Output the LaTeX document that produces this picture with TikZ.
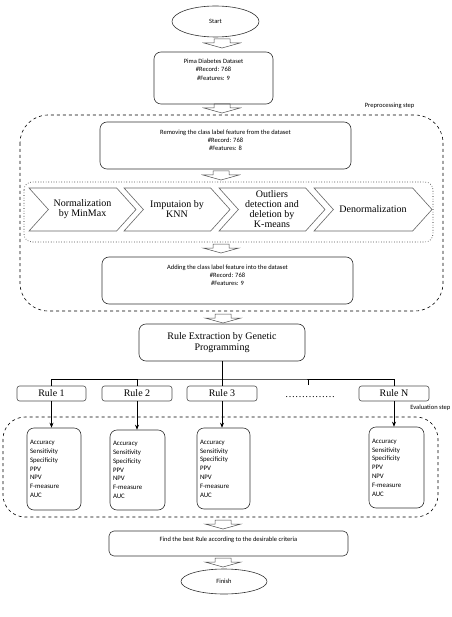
\documentclass[tikz,border=0pt]{standalone}
\usepackage{fontspec}
\setmainfont{Liberation Serif}
\newfontfamily\calibri{Carlito}
\usetikzlibrary{positioning,shapes.geometric,shapes.symbols,arrows.meta}

\newcommand\metriclist{Accuracy\\Sensitivity\\Specificity\\PPV\\NPV\\F-measure\\AUC}

\begin{document}
\begin{tikzpicture}[x=1pt,y=-1pt,line width=0.6pt,
  box/.style={draw=black!80, rounded corners=7pt, inner sep=0pt},
  oval/.style={draw=black!80, ellipse, inner sep=0pt, font=\calibri\fontsize{6.5}{8}\selectfont},
  smalltxt/.style={font=\calibri\fontsize{6.5}{8.3}\selectfont, align=center, inner sep=0pt},
  chev/.style={draw=black!60, signal, signal from=west, signal to=east, signal pointer angle=96,
    minimum height=43pt, inner sep=0pt, align=center, font=\fontsize{10}{10}\selectfont},
  rulebox/.style={draw=black!70, rounded corners=2.5pt, minimum height=15pt, inner sep=0pt,
    font=\fontsize{10}{11}\selectfont},
  metric/.style={draw=black!80, rounded corners=7pt, inner xsep=3pt, inner ysep=0pt, align=left,
    font=\calibri\fontsize{6.8}{8.8}\selectfont},
  hollowarr/.pic={\draw[black!70, line width=0.5pt] (-8,0) -- (8,0) -- (8,4) -- (18,4) -- (0,9)
    -- (-18,4) -- (-8,4) -- cycle;}
]
\useasboundingbox (0,0) rectangle (451,617);

% start and data set
\node[oval, minimum width=87pt, minimum height=31pt] (start) at (215.5,21.5) {Start};
\pic at (222,39) {hollowarr};
\node[box, minimum width=119pt, minimum height=52pt] (pima) at (213.5,78) {};
\node[smalltxt, below=7pt of pima.north] (pimatxt) {Pima Diabetes Dataset\\\#Record: 768\\\#Features: 9};
\pic at (222,104) {hollowarr};

% preprocessing step
\draw[dashed, rounded corners=28pt] (20,115) rectangle (443,311);
\node[smalltxt] (prelabel) at (389.5,106) {Preprocessing step};
\node[box, minimum width=251pt, minimum height=47pt] (remove) at (225.5,145.5) {};
\node[smalltxt, below=7.5pt of remove.north] (removetxt) {Removing the class label feature from the dataset\\\#Record: 768\\\#Features: 8};
\pic at (221,171) {hollowarr};

\draw[dotted, rounded corners=8pt] (24,182) rectangle (433,242);
\node[chev, minimum width=107pt] (norm) at (82.5,209.5) {Normalization\\by MinMax};
\node[chev, minimum width=106pt] (imput) at (177,209.5) {Imputaion by\\KNN};
\node[chev, minimum width=106pt] (outl) at (272,209.5) {Outliers\\detection and\\deletion by\\K-means};
\node[chev, minimum width=118pt] (denorm) at (373,209.5) {Denormalization};
\pic at (221,244) {hollowarr};

\node[box, minimum width=251pt, minimum height=47pt] (addcls) at (227.5,280.5) {};
\node[smalltxt, below=7.5pt of addcls.north] (addtxt) {Adding the class label feature into the dataset\\\#Record: 768\\\#Features: 9};
\pic at (223,314) {hollowarr};

% rule extraction
\node[box, minimum width=166pt, minimum height=37pt, align=center, font=\fontsize{10}{11}\selectfont] (rex) at (222,342.5) {Rule Extraction by Genetic\\Programming};

\node[rulebox, minimum width=69pt] (r1) at (51.5,393.5) {Rule 1};
\node[rulebox, minimum width=70pt] (r2) at (137,393.5) {Rule 2};
\node[rulebox, minimum width=70pt] (r3) at (222,393.5) {Rule 3};
\node[inner sep=0pt, anchor=base, font=\fontsize{10}{11}\selectfont] (rdots) at (310,397) {……………};
\node[rulebox, minimum width=70pt] (rN) at (394,393.5) {Rule N};

\coordinate (bus) at (222,379);
\coordinate (dottick) at (308,385);
\draw (rex.south) -- (bus);
\draw (r1.north) |- (bus) -| (rN.north);
\draw (r2.north) -- (r2.north |- bus);
\draw (r3.north) -- (bus);
\draw (dottick) -- (dottick |- bus);

% evaluation step
\draw[dashed, rounded corners=22pt] (3,417) rectangle (438,517);
\node[smalltxt, anchor=west] (evallabel) at (410,408) {Evaluation step};

\node[metric, minimum height=82pt, text width=48pt] (m1) at (54,469) {\metriclist};
\node[metric, minimum height=80pt, text width=49pt] (m2) at (137.5,470) {\metriclist};
\node[metric, minimum height=81pt, text width=47pt] (m3) at (223.5,468.5) {\metriclist};
\node[metric, minimum height=81pt, text width=49pt] (m4) at (396.5,467.5) {\metriclist};

\draw[-{Stealth[length=5pt,width=4pt]}] (r1.south) -- (r1.south |- m1.north);
\draw[-{Stealth[length=5pt,width=4pt]}] (r2.south) -- (r2.south |- m2.north);
\draw[-{Stealth[length=5pt,width=4pt]}] (r3.south) -- (r3.south |- m3.north);
\draw[-{Stealth[length=5pt,width=4pt]}] (rN.south) -- (rN.south |- m4.north);
\pic at (223,520) {hollowarr};

% best rule and finish
\node[box, minimum width=239pt, minimum height=25pt, rounded corners=5pt] (best) at (228.5,543.5) {};
\node[smalltxt, below=6pt of best.north] (besttxt) {Find the best Rule according to the desirable criteria};
\pic at (223,558) {hollowarr};
\node[oval, minimum width=86pt, minimum height=25pt] (finish) at (224,581.5) {Finish};

\end{tikzpicture}
\end{document}
